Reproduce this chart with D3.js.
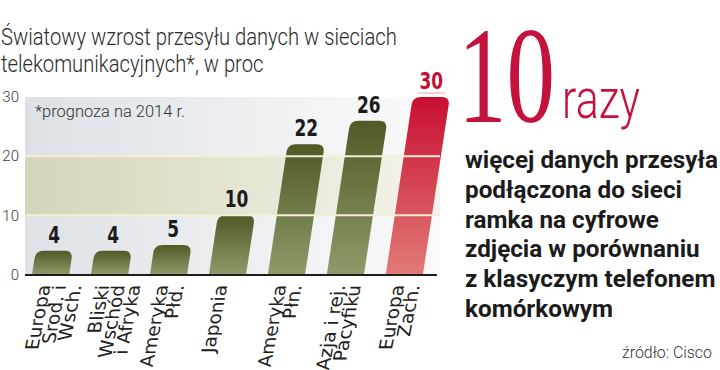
<!DOCTYPE html>
<html>
<head>
<meta charset="utf-8">
<script src="https://cdn.jsdelivr.net/npm/d3@7"></script>
<style>
  body { margin: 0; background: #fff; }
  svg { display: block; }
</style>
</head>
<body>
<div id="svg-area"></div>
<script>
// Światowy wzrost przesyłu danych - słupki pochylone
const width = 720;
const height = 370;
const margin = {top: 97, left: 25, bottom: 95, right: 283};

const categories = [
  ['Europa', 'Srod. i', 'Wsch.'],
  ['Bliski', 'Wschód', 'i Afryka'],
  ['Ameryka', 'Płd.'],
  ['Japonia'],
  ['Ameryka', 'Płn.'],
  ['Azja i rej.', 'Pacyfiku'],
  ['Europa', 'Zach.']
];
const values = [4, 4, 5, 10, 22, 26, 30];
const yTicks = [0, 10, 20, 30];
const titleLines = ['Światowy wzrost przesyłu danych w sieciach', 'telekomunikacyjnych*, w proc'];
const note = '*prognoza na 2014 r.';
const bigNumber = '10';
const bigWord = 'razy';
const bodyLines = ['więcej danych przesyła', 'podłączona do sieci', 'ramka na cyfrowe',
                   'zdjęcia w porównaniu', 'z klasyczym telefonem', 'komórkowym'];
const source = 'źródło: Cisco';

const data = values.map((v, i) => ({id: i, lines: categories[i], value: v, last: i === values.length - 1}));

const slant = 0.152; // pochylenie słupków
const slantDeg = Math.atan(slant) * 180 / Math.PI;

const x = d3.scaleBand()
  .domain(data.map(d => d.id))
  .range([margin.left, 430])
  .paddingInner(0.37)
  .paddingOuter(0.12);

const y = d3.scaleLinear()
  .domain([0, 30])
  .range([height - margin.bottom - 0.5, margin.top]);

const svg = d3.select('#svg-area').append('svg')
  .attr('width', width).attr('height', height)
  .style('font-family', 'Roboto, "DejaVu Sans", sans-serif');

const defs = svg.append('defs');
const hgrad = (id, c0, c1) => {
  const g = defs.append('linearGradient').attr('id', id).attr('x1', 0).attr('x2', 1).attr('y1', 0).attr('y2', 0);
  g.append('stop').attr('offset', 0).attr('stop-color', c0);
  g.append('stop').attr('offset', 1).attr('stop-color', c1);
};
const vgrad = (id, c0, c1) => {
  const g = defs.append('linearGradient').attr('id', id).attr('x1', 0).attr('x2', 0).attr('y1', 0).attr('y2', 1);
  g.append('stop').attr('offset', 0).attr('stop-color', c0);
  g.append('stop').attr('offset', 1).attr('stop-color', c1);
};
hgrad('bg-top', '#dde1e6', '#fbfbfb');
hgrad('bg-mid', '#d4d5b9', '#f5f4ec');
hgrad('bg-low', '#dfe2e6', '#fafafa');
vgrad('bar-olive', '#4f5a27', '#8f9a6a');
vgrad('bar-red', '#c80f32', '#e27a76');

const plotRight = 440;

// tło w pasach
const bands = [[20, 30, 'bg-top'], [10, 20, 'bg-mid'], [0, 10, 'bg-low']];
svg.append('g').selectAll('rect').data(bands).enter().append('rect')
  .attr('x', margin.left)
  .attr('y', d => y(d[1]))
  .attr('width', plotRight - margin.left)
  .attr('height', d => y(d[0]) - y(d[1]))
  .attr('fill', d => `url(#${d[2]})`);

// słupki
const y0 = y(0);
const bars = svg.append('g').selectAll('g').data(data).enter().append('g')
  .attr('transform', `translate(0,${y0}) skewX(${-slantDeg}) translate(0,${-y0})`);

bars.append('path')
  .attr('d', d => {
    const x0 = x(d.id), w = x.bandwidth(), yt = y(d.value), r = 8;
    return `M${x0},${y0}L${x0 + w},${y0}L${x0 + w},${yt + r}Q${x0 + w},${yt} ${x0 + w - r},${yt}` +
           `L${x0 + r},${yt}Q${x0},${yt} ${x0},${yt + r}Z`;
  })
  .attr('fill', d => d.last ? 'url(#bar-red)' : 'url(#bar-olive)');

// linie siatki nad słupkami
svg.append('g').selectAll('line').data(yTicks.filter(t => t > 0 && t < 30)).enter().append('line')
  .attr('x1', margin.left).attr('x2', plotRight)
  .attr('y1', d => y(d)).attr('y2', d => y(d))
  .attr('stroke', '#f3efd4').attr('stroke-width', 2);

// oś pozioma
svg.append('line')
  .attr('x1', margin.left).attr('x2', plotRight - 3)
  .attr('y1', y0 + 0.5).attr('y2', y0 + 0.5)
  .attr('stroke', '#1e1e1e').attr('stroke-width', 2);

// oś pionowa - tylko opisy
const yAxis = g => g
  .attr('transform', 'translate(19,0)')
  .call(d3.axisLeft(y).tickValues(yTicks).tickSize(0).tickPadding(0))
  .call(g => g.select('.domain').remove())
  .call(g => g.selectAll('text')
    .attr('font-family', 'Roboto, sans-serif')
    .attr('font-weight', 300)
    .attr('font-size', 15)
    .attr('fill', '#3a3a3a'));
svg.append('g').call(yAxis);

// wartości nad słupkami
const topX = d => x(d.id) + x.bandwidth() / 2 + slant * (y0 - y(d.value));
svg.append('g').selectAll('text').data(data).enter().append('text')
  .attr('transform', d => `translate(${topX(d)},${y(d.value) - 8}) scale(0.82,1)`)
  .attr('text-anchor', 'middle')
  .attr('font-family', '"DejaVu Sans Condensed", "DejaVu Sans", sans-serif')
  .attr('font-weight', 'bold')
  .attr('font-size', 23)
  .attr('fill', d => d.last ? '#c80f32' : '#1b1b1b')
  .text(d => d.value);

svg.append('line')
  .attr('x1', topX(data[6]) - 14).attr('x2', topX(data[6]) + 14)
  .attr('y1', y(30) - 4).attr('y2', y(30) - 4)
  .attr('stroke', '#e8a0a6').attr('stroke-width', 1);

// opisy kategorii
const labelSkew = 11;
const labels = svg.append('g').selectAll('g').data(data).enter().append('g')
  .attr('transform', d => `translate(${x(d.id) + x.bandwidth() / 2},285) skewX(${-labelSkew}) rotate(-90)`);
labels.selectAll('text').data(d => d.lines).enter().append('text')
  .attr('x', 0)
  .attr('y', (d, i) => i * 15.5)
  .attr('text-anchor', 'end')
  .attr('font-family', '"DejaVu Sans", sans-serif')
  .attr('font-size', 18.5)
  .attr('fill', '#222')
  .text(d => d);

// dopasowanie szerokości bloku tekstu
function fitBlock(g, targetW) {
  const w = g.select('text').node().getComputedTextLength();
  const s = targetW / w;
  g.attr('transform', `${g.attr('transform') || ''} scale(${s},1)`);
}

// tytuł
const title = svg.append('g').attr('transform', 'translate(1,0)');
title.selectAll('text').data(titleLines).enter().append('text')
  .attr('x', 0).attr('y', (d, i) => 45 + i * 27)
  .attr('font-weight', 300).attr('font-size', 23).attr('fill', '#2a2a2a')
  .text(d => d);
fitBlock(title, 396);

const noteG = svg.append('g').attr('transform', 'translate(35,0)');
noteG.append('text').attr('y', 117)
  .attr('font-weight', 300).attr('font-size', 17).attr('fill', '#333')
  .text(note);
fitBlock(noteG, 150);

// prawa strona
const bigG = svg.append('g').attr('transform', 'translate(458,0)');
bigG.append('text').attr('y', 122)
  .attr('font-family', '"Liberation Serif", serif')
  .attr('font-size', 138).attr('fill', '#c4123c')
  .text(bigNumber);
fitBlock(bigG, 97);

const wordG = svg.append('g').attr('transform', 'translate(562,0)');
wordG.append('text').attr('y', 118)
  .attr('font-weight', 300).attr('font-size', 55).attr('fill', '#c4123c')
  .text(bigWord);
fitBlock(wordG, 78);

const body = svg.append('g').attr('transform', 'translate(465,0)');
body.selectAll('text').data(bodyLines).enter().append('text')
  .attr('x', 0).attr('y', (d, i) => 168 + i * 29.8)
  .attr('font-weight', 'bold').attr('font-size', 24).attr('fill', '#1b1b1b')
  .text(d => d);
fitBlock(body, 253);

const srcG = svg.append('g').attr('transform', 'translate(622,0)');
srcG.append('text').attr('y', 358)
  .attr('font-weight', 300).attr('font-size', 16).attr('fill', '#333')
  .text(source);
fitBlock(srcG, 90);
</script>
</body>
</html>
